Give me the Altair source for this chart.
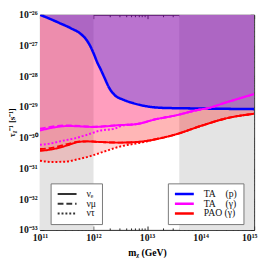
import altair as alt
import pandas as pd

# ---- data (log10 values) ----
ta_p_x = [11.0, 11.17, 11.34, 11.58, 11.76, 11.87, 11.94, 12.0, 12.07, 12.14, 12.2, 12.3, 12.4, 12.55, 12.75, 13.0, 13.3, 14.0, 15.0]
ta_p_y = [-26.0, -26.12, -26.25, -26.44, -26.62, -26.82, -27.02, -27.25, -27.55, -27.80, -28.03, -28.40, -28.62, -28.76, -28.88, -28.98, -29.03, -29.05, -29.07]

ta_g_e_x = [11.0, 11.22, 11.53, 12.01, 12.49, 12.79, 13.16, 13.52, 14.0, 14.11, 14.48, 15.0]
ta_g_e_y = [-29.77, -29.68, -29.62, -29.65, -29.59, -29.56, -29.40, -29.28, -29.08, -29.05, -28.85, -28.58]
ta_g_mu_x = [11.0, 11.22, 11.5, 12.01, 12.49, 12.79, 13.16, 13.52, 14.0, 14.11, 14.48, 15.0]
ta_g_mu_y = [-29.71, -29.64, -29.60, -29.64, -29.59, -29.56, -29.40, -29.28, -29.08, -29.05, -28.85, -28.58]
ta_g_tau_x = [11.0, 11.16, 11.40, 11.65, 11.89, 12.12, 12.38, 12.56, 12.79, 13.16, 13.52, 14.0, 14.11, 14.48, 15.0]
ta_g_tau_y = [-30.23, -30.20, -30.11, -30.02, -29.90, -29.77, -29.71, -29.60, -29.56, -29.40, -29.28, -29.08, -29.05, -28.85, -28.58]

pao_e_x = [11.0, 11.22, 11.53, 11.71, 11.89, 12.12, 12.49, 12.79, 12.97, 13.16, 13.52, 14.0, 14.48, 15.0]
pao_e_y = [-30.43, -30.38, -30.24, -30.14, -30.12, -30.14, -30.16, -30.14, -30.11, -30.05, -29.90, -29.62, -29.37, -29.22]
pao_mu_x = [11.0, 11.22, 11.53, 11.71, 11.89, 12.12, 12.49, 12.79, 12.97, 13.16, 13.52, 14.0, 14.48, 15.0]
pao_mu_y = [-30.37, -30.33, -30.20, -30.13, -30.12, -30.14, -30.16, -30.14, -30.11, -30.05, -29.90, -29.62, -29.37, -29.22]
pao_tau_x = [11.0, 11.22, 11.47, 11.71, 11.94, 12.2, 12.49, 12.79, 12.97, 13.16, 13.52, 14.0, 14.48, 15.0]
pao_tau_y = [-30.75, -30.79, -30.78, -30.70, -30.60, -30.45, -30.29, -30.19, -30.13, -30.05, -29.90, -29.62, -29.37, -29.22]

band_lo = [1e11, 4e13]
band_hi = [1e12, 1e15]

NB = "\u00a0"
exps = ["TA" + NB * 4 + "(p)" + NB * 5, "TA" + NB * 4 + "(γ)" + NB * 5, "PAO" + NB + "(γ)" + NB * 5]
exp_colors = ["#0000ff", "#ff00ff", "#ff0000"]
flavors = ["νₑ", "νμ", "ντ"]
dashes = [[1, 0], [6, 3], [2, 2]]

curves = [
    ("tap", exps[0], flavors[0], ta_p_x, ta_p_y),
    ("tag_e", exps[1], flavors[0], ta_g_e_x, ta_g_e_y),
    ("tag_mu", exps[1], flavors[1], ta_g_mu_x, ta_g_mu_y),
    ("tag_tau", exps[1], flavors[2], ta_g_tau_x, ta_g_tau_y),
    ("pao_e", exps[2], flavors[0], pao_e_x, pao_e_y),
    ("pao_mu", exps[2], flavors[1], pao_mu_x, pao_mu_y),
    ("pao_tau", exps[2], flavors[2], pao_tau_x, pao_tau_y),
]
rows = []
for cid, ex, fl, xs, ys in curves:
    for lx, ly in zip(xs, ys):
        rows.append({"curve": cid, "exp": ex, "flavor": fl, "m": 10 ** lx, "tau": 10 ** ly, "top": 1e-26})
df = pd.DataFrame(rows)
bands = pd.DataFrame({"lo": band_lo, "hi": band_hi})

H = 222
W = 221

# ---- scales / axes ----
xscale = alt.Scale(type="log", domain=[1e11, 1e15], nice=False)
yscale = alt.Scale(type="log", domain=[1e-33, 1e-26], nice=False)

xvals = [k * 10.0 ** e for e in range(11, 15) for k in range(1, 10)] + [1e15]
yvals = [k * 10.0 ** e for e in range(-33, -26) for k in range(1, 10)] + [1e-26]

E = "log(datum.value)/LN10"
is_minor = f"abs({E} - round({E})) > 1e-6"
minor_dash = {"condition": {"test": is_minor, "value": [0, 2, 2]}, "value": [10, 0]}

FONT = "Liberation Serif"
x_lab = "['10¹¹','10¹²','10¹³','10¹⁴','10¹⁵'][round(" + E + ") - 11]"
y_lab = "['10⁻³³','10⁻³²','10⁻³¹','10⁻³⁰','10⁻²⁹','10⁻²⁸','10⁻²⁷','10⁻²⁶'][round(" + E + ") + 33]"

common = dict(tickSize=4, offset=-4, domain=False, grid=False, tickColor="#222",
              tickDash=minor_dash, labelOverlap=False, labelFlush=False)

x_axis = alt.Axis(values=xvals, labelExpr=f"{is_minor} ? '' : {x_lab}", labelFont=FONT,
                  labelFontSize=10, labelFontWeight="bold", labelColor="#111", labelPadding=3,
                  labelAlign={"condition": {"test": "datum.value > 5e14", "value": "right"}, "value": "center"},
                  labelOffset={"condition": {"test": "datum.value > 5e14", "value": 3}, "value": 0},
                  title="mᵪ (GeV)", titleFont=FONT, titleFontSize=10, titleFontWeight="bold",
                  titlePadding=5, **common)
y_axis = alt.Axis(values=yvals, labelExpr=f"{is_minor} ? '' : {y_lab}", labelFont=FONT,
                  labelFontSize=10, labelFontWeight="bold", labelColor="#111", labelPadding=3,
                  title="τᵪ⁻¹ [s⁻¹]", titleFont=FONT, titleFontSize=9, titleFontWeight="bold",
                  titlePadding=1, **common)
x_top = alt.Axis(values=xvals, orient="top", labels=False, title=None, **common)
y_right = alt.Axis(values=yvals, orient="right", labels=False, title=None, **common)

# ---- layers ----
band_layer = alt.Chart(bands).mark_rect(color="#e4e4e4").encode(
    x=alt.X("lo:Q", scale=xscale, axis=x_top),
    x2="hi:Q",
    y=alt.value(0),
    y2=alt.value(H),
)

def fill(cid, color, op):
    return alt.Chart(df).transform_filter(alt.datum.curve == cid).mark_area(
        color=color, opacity=op, interpolate="monotone", clip=True
    ).encode(
        x=alt.X("m:Q", scale=xscale, axis=None),
        y=alt.Y("tau:Q", scale=yscale, axis=None, stack=None),
        y2="top:Q",
    )

fills = [
    fill("pao_tau", "#ff0000", 0.16),
    fill("pao_e", "#ff0000", 0.15),
    fill("tag_tau", "#ff00ff", 0.05),
    fill("tag_e", "#ff00ff", 0.08),
    fill("tap", "#0000ff", 0.27),
]

right_dummy = alt.Chart(df).mark_point(opacity=0).encode(
    x=alt.X("m:Q", scale=xscale, axis=None),
    y=alt.Y("tau:Q", scale=yscale, axis=y_right),
)

leg_common = dict(title=None, orient="none", legendY=174, symbolType="stroke",
                  symbolSize=380, clipHeight=10, labelFont=FONT, labelFontSize=10,
                  labelColor="#111", rowPadding=0, padding=6, labelOffset=9,
                  fillColor="white", strokeColor="#777")

lines = alt.Chart(df).mark_line(interpolate="monotone", clip=True).encode(
    x=alt.X("m:Q", scale=xscale, axis=x_axis),
    y=alt.Y("tau:Q", scale=yscale, axis=y_axis),
    color=alt.Color("exp:N", scale=alt.Scale(domain=exps, range=exp_colors),
                    legend=alt.Legend(legendX=132, symbolStrokeWidth=2.5, **leg_common)),
    strokeDash=alt.StrokeDash("flavor:N", scale=alt.Scale(domain=flavors, range=dashes),
                              legend=alt.Legend(legendX=11, symbolStrokeWidth=2,
                                                symbolStrokeColor="#333", **leg_common)),
    strokeWidth=alt.condition(alt.datum.curve == "tap", alt.value(2.6), alt.value(2)),
    detail="curve:N",
)

chart = alt.layer(band_layer, *fills, right_dummy, lines).resolve_axis(
    x="independent", y="independent"
).properties(
    width=W, height=H,
    autosize=alt.AutoSizeParams(type="none"),
    padding={"left": 33, "top": 3, "right": 4, "bottom": 25},
).configure_view(stroke="#222", strokeWidth=1)

chart.save("out.html", embed_options={"renderer": "svg", "actions": False})
